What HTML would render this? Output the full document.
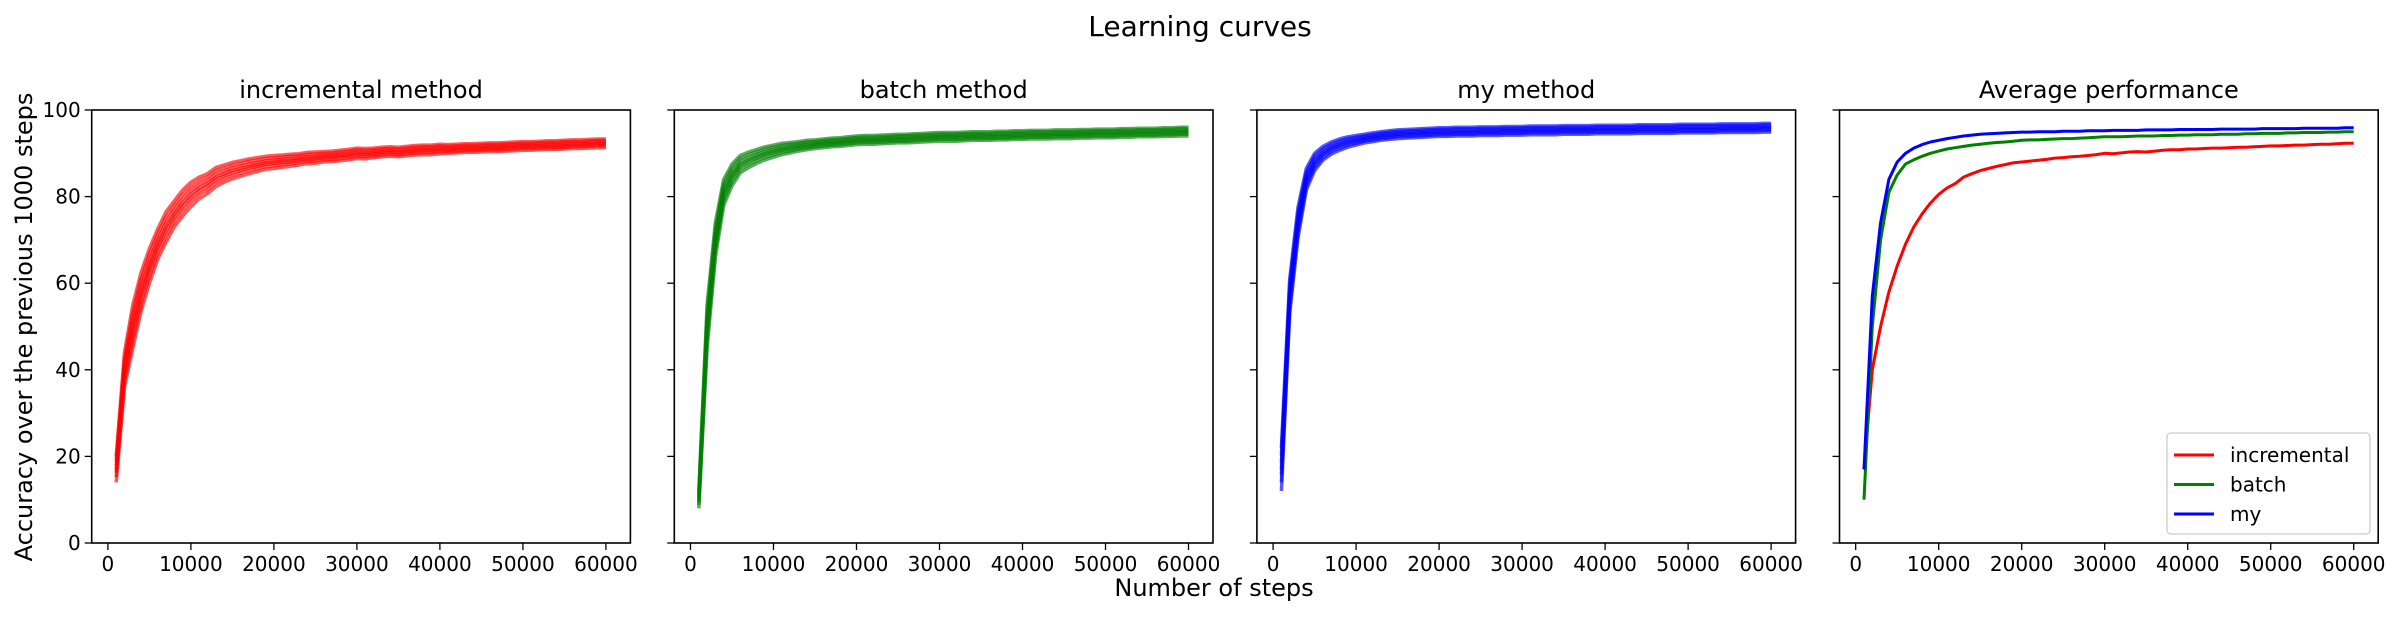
<!DOCTYPE html>
<html><head><meta charset="utf-8"><style>
html,body{margin:0;padding:0;background:#fff}
svg{display:block;font-family:"DejaVu Sans","Liberation Sans",sans-serif}
</style></head><body>
<svg id="fig" width="2401" height="617" viewBox="0 0 2401 617" xmlns="http://www.w3.org/2000/svg">
<text x="1200" y="36" font-size="28" text-anchor="middle">Learning curves</text>
<text x="1214" y="596" font-size="24" text-anchor="middle">Number of steps</text>
<text transform="translate(32,327) rotate(-90)" font-size="24" text-anchor="middle">Accuracy over the previous 1000 steps</text>
<g id="plots"></g>
</svg>
<script>
const steps = Array.from({length:60},(_,i)=>(i+1)*1000);
const xTicks = [0,10000,20000,30000,40000,50000,60000];
const yTicks = [0,20,40,60,80,100];
const panelTitles = ["incremental method","batch method","my method","Average performance"];
const seriesNames = ["incremental","batch","my"];
const seriesColors = ["#ff0000","#008000","#0000ff"];
const incrementalMean = [17,40,50,58,64,69,73,76,78.5,80.5,82,83,84.5,85.3,86,86.5,87,87.4,87.8,88,88.2,88.4,88.6,88.9,89,89.2,89.3,89.5,89.7,90,89.9,90.1,90.3,90.4,90.3,90.5,90.7,90.8,90.8,91,91,91.1,91.2,91.2,91.3,91.4,91.4,91.5,91.6,91.7,91.7,91.8,91.9,91.9,92,92.1,92.1,92.2,92.3,92.3];
const batchMean = [10,50,70,81,85,87.5,88.5,89.3,90,90.5,91,91.3,91.6,91.9,92.1,92.3,92.5,92.6,92.8,93,93.1,93.1,93.2,93.3,93.4,93.4,93.5,93.6,93.7,93.8,93.8,93.8,93.9,94,94,94,94.1,94.1,94.2,94.2,94.3,94.3,94.3,94.4,94.4,94.4,94.5,94.5,94.6,94.6,94.6,94.7,94.7,94.8,94.8,94.8,94.9,94.9,95,95];
const myMean = [17,57,74,84,88,90,91.2,92,92.6,93,93.4,93.7,94,94.2,94.4,94.5,94.6,94.7,94.8,94.9,94.9,95,95,95,95.1,95.1,95.1,95.2,95.2,95.2,95.3,95.3,95.3,95.3,95.4,95.4,95.4,95.4,95.5,95.5,95.5,95.5,95.5,95.6,95.6,95.6,95.6,95.6,95.7,95.7,95.7,95.7,95.7,95.8,95.8,95.8,95.8,95.8,95.9,95.9];
const incrementalSpread = [3,4,5,4.5,4,3.5,3.5,3,3,2.8,2.5,2.3,2.2,2,1.9,1.8,1.7,1.6,1.5,1.5,1.4,1.4,1.3,1.3,1.3,1.2,1.2,1.2,1.2,1.2,1.2,1.1,1.1,1.1,1.1,1.1,1.1,1.1,1.1,1.1,1,1,1,1,1,1,1,1,1,1,1,1,1,1,1,1,1,1,1,1];
const batchSpread = [2,5,4,3,2.5,2,1.8,1.6,1.5,1.4,1.3,1.2,1.1,1.1,1,1,1,1,1,1,1,1,1,1,1,1,1,1,1,1,1,1,1,1,1,1,1,1,1,1,1,1,1,1,1,1,1,1,1,1,1,1,1,1,1,1,1,1,1,1];
const mySpread = [5,4,3.5,2.5,2,1.6,1.4,1.3,1.2,1.1,1,1,1,1,1,1,1,1,1,1,1,1,1,1,1,1,1,1,1,1,1,1,1,1,1,1,1,1,1,1,1,1,1,1,1,1,1,1,1,1,1,1,1,1,1,1,1,1,1,1];
const runOffsets = [-1,-0.6,-0.25,0,0.3,0.65,1];

const means=[incrementalMean,batchMean,myMean];
const spreads=[incrementalSpread,batchSpread,mySpread];
const NS="http://www.w3.org/2000/svg";
const root=document.getElementById('plots');
const L0=91.7, PW=538.7, GAP=582.6, TOP=110, BOT=543;
const xmin=-1950, xmax=62950;
function mk(tag,attrs,parent){const e=document.createElementNS(NS,tag);for(const k in attrs)e.setAttribute(k,attrs[k]);parent.appendChild(e);return e;}
for(let p=0;p<4;p++){
  const left=L0+p*GAP;
  const xs=v=>left+(v-xmin)/(xmax-xmin)*PW;
  const ys=v=>BOT-(v/100)*(BOT-TOP);
  const g=mk('g',{},root);
  
  
  const t=mk('text',{x:left+PW/2,y:98,'font-size':24,'text-anchor':'middle'},g);
  t.textContent=panelTitles[p];
  
  
  const lines=mk('g',{fill:'none','stroke-linejoin':'round'},g);
  if(p<3){
    runOffsets.forEach((o,ri)=>{
      const d=steps.map((s,i)=>(i?'L':'M')+xs(s).toFixed(1)+','+ys(Math.min(100,means[p][i]+o*spreads[p][i])).toFixed(1)).join('');
      const pa=mk('path',{d:d,stroke:seriesColors[p],'stroke-width':3.5,'stroke-opacity':0.65},lines);
      
      
    });
  } else {
    [0,1,2].forEach(k=>{
      const d=steps.map((s,i)=>(i?'L':'M')+xs(s).toFixed(1)+','+ys(means[k][i]).toFixed(1)).join('');
      const pa=mk('path',{d:d,stroke:seriesColors[k],'stroke-width':3},lines);
      
      
    });
  }
  const fr=mk('rect',{x:left,y:TOP,width:PW,height:BOT-TOP,fill:'none',stroke:'#000','stroke-width':1.6},g);
  
  
  xTicks.forEach(v=>{
    mk('line',{x1:xs(v),x2:xs(v),y1:BOT,y2:BOT+7,stroke:'#000','stroke-width':1.3},g);
    const tl=mk('text',{x:xs(v),y:BOT+28,'font-size':20,'text-anchor':'middle'},g);
    tl.textContent=v;
    
    
  });
  yTicks.forEach(v=>{
    mk('line',{x1:left-7,x2:left,y1:ys(v),y2:ys(v),stroke:'#000','stroke-width':1.3},g);
    if(p===0){
      const tl=mk('text',{x:left-11,y:ys(v)+7,'font-size':20,'text-anchor':'end'},g);
      tl.textContent=v;
      
      
    }
  });
  if(p===3){
    const lg=mk('g',{},g);
    
    
    mk('rect',{x:2167,y:433,width:203,height:101,rx:4,fill:'#fff','fill-opacity':0.8,stroke:'#ccc','stroke-width':1.3},lg);
    seriesNames.forEach((n,k)=>{
      const yy=455+k*29.5;
      mk('line',{x1:2174,x2:2214,y1:yy,y2:yy,stroke:seriesColors[k],'stroke-width':3},lg);
      const tx=mk('text',{x:2230,y:yy+7,'font-size':20},lg);
      tx.textContent=n;
      
      
    });
  }
}
</script>
</body></html>
